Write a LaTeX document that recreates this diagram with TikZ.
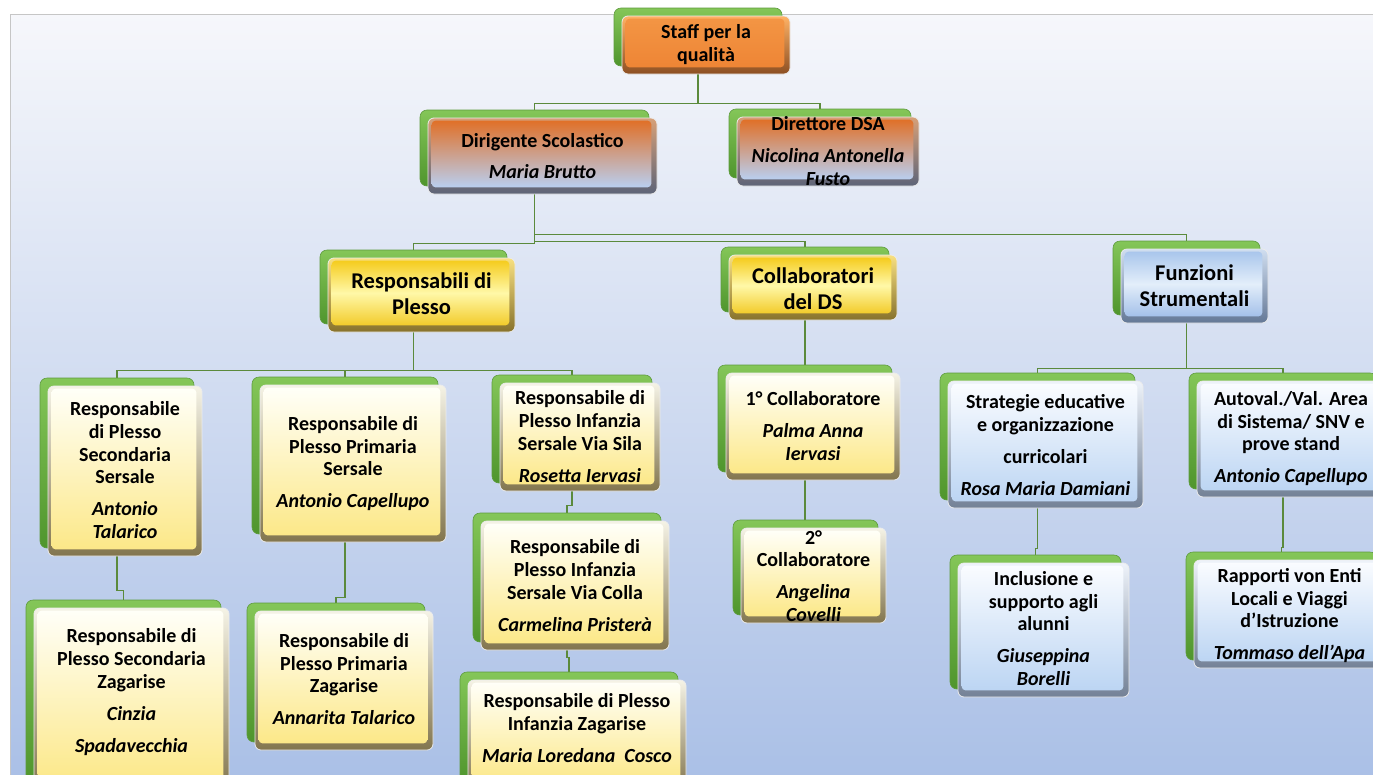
\documentclass[tikz,border=0pt]{standalone}
\usepackage{fontspec}
\setmainfont{Carlito}
\usetikzlibrary{fit,calc}
\pgfdeclarelayer{bg}
\pgfsetlayers{bg,main}
\definecolor{plateTop}{HTML}{84C658}
\definecolor{plateBot}{HTML}{4F952D}
\definecolor{plateLine}{HTML}{5E9B3E}
\definecolor{connC}{HTML}{5B8A3C}
\definecolor{panelTop}{HTML}{F6F7FB}
\definecolor{panelBot}{HTML}{A9BFE6}
\tikzset{
  plate/.style={inner sep=0pt, rounded corners=7pt, top color=plateTop, bottom color=plateBot, draw=plateLine, line width=0.6pt},
  front/.style={inner sep=0pt, rounded corners=6pt, draw=white!85!gray, line width=0.8pt},
  txt/.style={align=center, inner sep=0pt, font=\fontsize{20}{22.8}\selectfont\bfseries},
  htxt/.style={align=center, inner sep=0pt, font=\fontsize{22.5}{26}\selectfont\bfseries},
  conn/.style={draw=connC, line width=1.6pt},
  orange bev/.style={top color=orange!60!white, bottom color={rgb,255:red,140;green,79;blue,34}},
  orange in/.style={top color={rgb,255:red,243;green,149;blue,68}, bottom color={rgb,255:red,238;green,133;blue,53}},
  dir bev/.style={top color={rgb,255:red,215;green,160;blue,120}, bottom color={rgb,255:red,93;green,100;blue,120}},
  dir in/.style={top color={rgb,255:red,224;green,112;blue,40}, bottom color={rgb,255:red,185;green,207;blue,240}},
  gold bev/.style={top color={rgb,255:red,248;green,224;blue,128}, bottom color={rgb,255:red,135;green,114;blue,44}},
  gold in/.style={top color={rgb,255:red,245;green,204;blue,30}, bottom color={rgb,255:red,242;green,203;blue,42}, middle color={rgb,255:red,255;green,248;blue,168}},
  blue bev/.style={top color={rgb,255:red,208;green,222;blue,240}, bottom color={rgb,255:red,100;green,120;blue,150}},
  blue in/.style={top color={rgb,255:red,169;green,198;blue,236}, bottom color={rgb,255:red,163;green,192;blue,233}, middle color={rgb,255:red,227;green,238;blue,250}},
  cream bev/.style={top color={rgb,255:red,245;green,243;blue,230}, bottom color={rgb,255:red,130;green,117;blue,78}},
  cream in/.style={top color={rgb,255:red,255;green,255;blue,248}, bottom color={rgb,255:red,252;green,232;blue,136}},
  ice bev/.style={top color={rgb,255:red,238;green,243;blue,250}, bottom color={rgb,255:red,115;green,129;blue,150}},
  ice in/.style={top color={rgb,255:red,250;green,252;blue,255}, bottom color={rgb,255:red,188;green,213;blue,243}},
}
% #1 name, #2 x1, #3 y1, #4 x2, #5 y2 (front box), #6 colour family, #7 text centre y, #8 text style, #9 text
\newcommand\orgbox[9]{%
  \node[plate, fit={({#2-8},{#3-8}) ({#4-8},{#5-8})}] (#1) {};
  \node[front, #6 bev, fit={(#2,#3) (#4,#5)}] (#1-f) {};
  \shade[#6 in, rounded corners=4pt] ([xshift=4pt,yshift=-3pt]#1-f.north west) rectangle ([xshift=-6pt,yshift=7pt]#1-f.south east);
  \node[#8] (#1-t) at ({(#2+#4)/2},#7) {#9};
}
\newcommand\pname[1]{{\itshape #1}}
\begin{document}
\begin{tikzpicture}[x=1pt,y=-1pt]
\useasboundingbox (0,0) rectangle (1373,774);
\clip (0,0) rectangle (1373,774);
\begin{pgfonlayer}{bg}
  \fill[white] (0,0) rectangle (1373,774);
  \shade[top color=panelTop, bottom color=panelBot] (10,14) rectangle (1390,790);
  \draw[gray!45, line width=1pt] (1390,14) -- (10,14) -- (10,790);
\end{pgfonlayer}

\orgbox{staff}{622}{16}{790}{74}{orange}{44.5}{txt}{Staff per la\\qualità}
\orgbox{dir}{428}{118}{657}{194}{dir}{156}{txt}{Dirigente Scolastico\\[9pt]\pname{Maria Brutto}}
\orgbox{dsa}{737}{117}{919}{186}{dir}{151}{txt}{Direttore DSA\\[9pt]\pname{Nicolina Antonella}\\\pname{Fusto}}

\orgbox{resp}{328}{258}{515}{332}{gold}{294}{htxt}{Responsabili di\\Plesso}
\orgbox{coll}{729}{255}{897}{320}{gold}{289}{htxt}{Collaboratori\\del DS}
\orgbox{funz}{1121}{249}{1268}{323}{blue}{286}{htxt}{Funzioni\\Strumentali}

\orgbox{secser}{48}{386}{202}{556}{cream}{470}{txt}{Responsabile\\di Plesso\\Secondaria\\Sersale\\[9pt]\pname{Antonio}\\\pname{Talarico}}
\orgbox{primser}{260}{385}{446}{542}{cream}{463.5}{txt}{Responsabile di\\Plesso Primaria\\Sersale\\[9pt]\pname{Antonio Capellupo}}
\orgbox{sila}{500}{383}{660}{491}{cream}{436.5}{txt}{Responsabile di\\Plesso Infanzia\\Sersale Via Sila\\[9pt]\pname{Rosetta Iervasi}}

\orgbox{seczag}{34}{608}{229}{790}{cream}{692}{txt}{Responsabile di\\Plesso Secondaria\\Zagarise\\[9pt]\pname{Cinzia}\\[9pt]\pname{Spadavecchia}}
\orgbox{primzag}{255}{611}{433}{750}{cream}{679}{txt}{Responsabile di\\Plesso Primaria\\Zagarise\\[9pt]\pname{Annarita Talarico}}
\orgbox{colla}{481}{521}{669}{650}{cream}{585.5}{txt}{Responsabile di\\Plesso Infanzia\\Sersale Via Colla\\[9pt]\pname{Carmelina Pristerà}}
\orgbox{infzag}{468}{680}{686}{790}{cream}{728}{txt}{Responsabile di Plesso\\Infanzia Zagarise\\[9pt]\pname{Maria Loredana\ \ Cosco}}

\orgbox{primo}{726}{373}{900}{480}{cream}{426}{txt}{1° Collaboratore\\[9pt]\pname{Palma Anna}\\\pname{Iervasi}}
\orgbox{secondo}{741}{528}{886}{623}{cream}{576}{txt}{2°\\Collaboratore\\[9pt]\pname{Angelina}\\\pname{Covelli}}

\orgbox{strat}{948}{381}{1143}{508}{ice}{445}{txt}{Strategie educative\\e organizzazione\\[9pt]curricolari\\[9pt]\pname{Rosa Maria Damiani}}
\orgbox{autov}{1197}{381}{1385}{497}{ice}{438.5}{txt}{Autoval./Val. Area\\di Sistema/ SNV e\\prove stand\\[9pt]\pname{Antonio Capellupo}}
\orgbox{incl}{958}{563}{1129}{697}{ice}{628.5}{txt}{Inclusione e\\supporto agli\\alunni\\[9pt]\pname{Giuseppina}\\\pname{Borelli}}
\orgbox{rapp}{1194}{560}{1385}{668}{ice}{615.5}{txt}{Rapporti von Enti\\Locali e Viaggi\\d’Istruzione\\[9pt]\pname{Tommaso dell’Apa}}

\begin{pgfonlayer}{bg}
  \draw[conn] (staff.south) -- ++(0,37) -| (dir.north);
  \draw[conn] (staff.south) -- ++(0,37) -| (dsa.north);
  \draw[conn] (dir.south) -- ++(0,57) -| (resp.north);
  \draw[conn] (dir.south) -- ++(0,55) -| (coll.north);
  \draw[conn] (dir.south) -- ++(0,48) -| (funz.north);
  \draw[conn] (resp.south) -- ++(0,46) -| (secser.north);
  \draw[conn] (resp.south) -- ++(0,46) -| (primser.north);
  \draw[conn] (resp.south) -- ++(0,46) -| (sila.north);
  \draw[conn] (coll.south) -- (coll.south |- primo.north);
  \draw[conn] (funz.south) -- ++(0,53) -| (strat.north);
  \draw[conn] (funz.south) -- ++(0,53) -| (autov.north);
  \draw[conn] (secser.south) -- ++(0,42) -| (seczag.north);
  \draw[conn] (primser.south) -- ++(0,63) -| (primzag.north);
  \draw[conn] (sila.south) -- ++(0,22) -| (colla.north);
  \draw[conn] (colla.south) -- ++(0,15) -| (infzag.north);
  \draw[conn] (primo.south) -- (primo.south |- secondo.north);
  \draw[conn] (strat.south) -- ++(0,48) -| (incl.north);
  \draw[conn] (autov.south) -- ++(0,58) -| (rapp.north);
\end{pgfonlayer}
\end{tikzpicture}
\end{document}
